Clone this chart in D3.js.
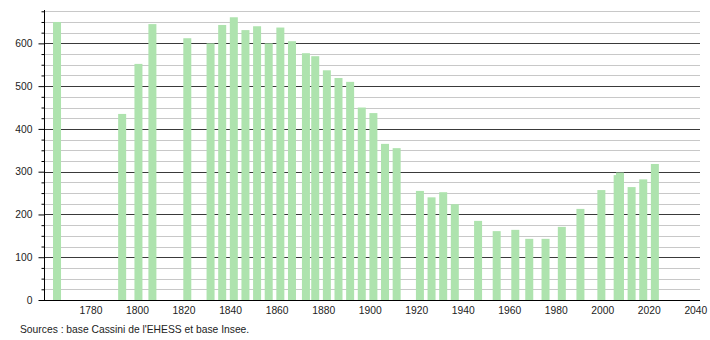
<!DOCTYPE html>
<html>
<head>
	<meta charset="utf-8">
	<title>Population</title>
	<script src="https://d3js.org/d3.v7.min.js"></script>
	<style>
		body { margin: 0; background: #fff; }
		text { font-family: "Liberation Sans", Arial, sans-serif; }
	</style>
</head>
<body>
	<div id="chart"></div>

	<script>
	// census years and population
	var years = [1765, 1793, 1800, 1806, 1821, 1831, 1836, 1841, 1846, 1851, 1856, 1861, 1866,
		1872, 1876, 1881, 1886, 1891, 1896, 1901, 1906, 1911, 1921, 1926, 1931, 1936,
		1946, 1954, 1962, 1968, 1975, 1982, 1990, 1999, 2006, 2007, 2012, 2017, 2022];
	var population = [650, 435, 552, 645, 612, 600, 643, 661, 631, 640, 600, 637, 605,
		577, 570, 537, 519, 510, 450, 437, 365, 355, 255, 240, 252, 224,
		185, 161, 164, 143, 143, 171, 213, 257, 292, 298, 264, 282, 318];
	var xTicks = [1780, 1800, 1820, 1840, 1860, 1880, 1900, 1920, 1940, 1960, 1980, 2000, 2020, 2040];
	var yTicks = [0, 100, 200, 300, 400, 500, 600];
	var source = "Sources : base Cassini de l'EHESS et base Insee.";

	var data = years.map(function(y, i) { return {year: y, pop: population[i]}; });

	var width = 710, height = 340;
	var fs = 10.3;
	var svg = d3.select("#chart")
		.append("svg")
		.attr("width", width)
		.attr("height", height);

	var x = d3.scaleLinear()
		.domain([1760, 2042])
		.range([44, 700]);

	var y = d3.scaleLinear()
		.domain([0, 678])
		.range([300, 10]);

	// minor grid every 25
	var minor = d3.range(25, 678, 25).filter(function(v) { return v % 100 != 0; });
	svg.append("g")
		.selectAll("line")
		.data(minor)
		.enter()
		.append("line")
		  .attr("x1", 44)
		  .attr("x2", 700)
		  .attr("y1", function(d) { return Math.round(y(d)) + 0.5; })
		  .attr("y2", function(d) { return Math.round(y(d)) + 0.5; })
		  .attr("stroke", "#c8c8c8")
		  .attr("stroke-width", 1);

	// major grid
	svg.append("g")
		.selectAll("line")
		.data(yTicks.slice(1))
		.enter()
		.append("line")
		  .attr("x1", 44)
		  .attr("x2", 700)
		  .attr("y1", function(d) { return Math.round(y(d)) + 0.5; })
		  .attr("y2", function(d) { return Math.round(y(d)) + 0.5; })
		  .attr("stroke", "#3a3a3a")
		  .attr("stroke-width", 1);

	// bars
	var bw = 8;
	svg.append("g")
		.selectAll("rect")
		.data(data)
		.enter()
		.append("rect")
		  .attr("x", function(d) { return x(d.year + 0.6) - bw / 2; })
		  .attr("y", function(d) { return y(d.pop); })
		  .attr("width", bw)
		  .attr("height", function(d) { return y(0) - y(d.pop); })
		  .attr("fill", "#aee3ae");

	// y axis with minor ticks
	svg.append("g")
		.attr("transform", "translate(44.5,0)")
		.call(d3.axisLeft(y).tickValues(minor).tickSize(3).tickFormat(""))
		.call(function(g) { g.select(".domain").remove(); });

	var yAxis = svg.append("g")
		.attr("transform", "translate(44.5,0)")
		.call(d3.axisLeft(y).tickValues(yTicks).tickSize(6).tickPadding(6));
	yAxis.select(".domain").attr("d", "M0," + y(0) + "V" + 10);
	yAxis.selectAll("text")
		.attr("font-size", fs)
		.attr("fill", "#222")
		.style("font-family", "'Liberation Sans', Arial, sans-serif");

	// x axis
	var xAxis = svg.append("g")
		.attr("transform", "translate(0," + (y(0) + 0.5) + ")")
		.call(d3.axisBottom(x).tickValues(xTicks).tickSize(0).tickPadding(6).tickFormat(d3.format("d")));
	xAxis.select(".domain").attr("d", "M44,0H700").attr("stroke", "#000");
	xAxis.selectAll("text")
		.attr("font-size", fs)
		.attr("fill", "#222")
		.style("font-family", "'Liberation Sans', Arial, sans-serif");

	svg.append("text")
		.attr("x", 20)
		.attr("y", 333)
		.attr("font-size", fs)
		.attr("fill", "#222")
		.text(source);
	</script>
</body>
</html>
